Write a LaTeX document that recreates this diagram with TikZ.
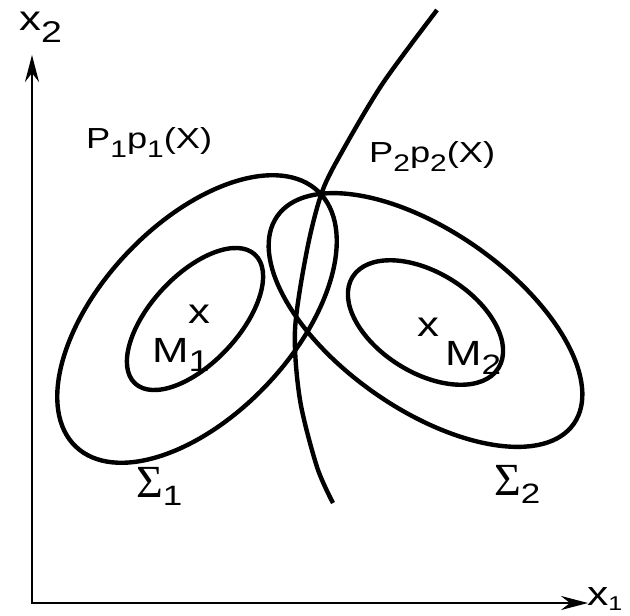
\documentclass[tikz,border=0pt]{standalone}
\usepackage{fontspec}
\newfontfamily\lab[FakeStretch=1.25]{Liberation Sans}
\newfontfamily\sig{Liberation Serif}
\usetikzlibrary{arrows.meta}
\newcommand\fs[2]{{\fontsize{#1}{#1}\selectfont #2}}
\newcommand\sbx[3]{\raisebox{#2}{\fontsize{#1}{#1}\selectfont #3}}
\begin{document}
\begin{tikzpicture}[x=1pt,y=-1pt,
  curve/.style={line width=4.4pt, line join=round},
  axis/.style={line width=2.6pt, arrows={Stealth[length=27pt,width=14pt,inset=9pt]-Stealth[length=27pt,width=14pt,inset=9pt]}},
  lbl/.style={inner sep=0pt, font=\lab}]
\useasboundingbox (0,0) rectangle (630,616);
% axes
\coordinate (ytip) at (32,55);
\coordinate (xtip) at (588,603);
\draw[axis] (ytip) |- (xtip);
% Sigma1 outer and inner
\coordinate (c1) at (197,319);
\draw[curve, rotate around={46.5:(c1)}] (c1) ellipse [x radius=176, y radius=96];
\coordinate (c1i) at (195,319);
\draw[curve, rotate around={47:(c1i)}] (c1i) ellipse [x radius=88, y radius=44];
% Sigma2 outer and inner
\coordinate (c2) at (425.5,320);
\draw[curve, rotate around={-35:(c2)}] (c2) ellipse [x radius=181, y radius=89];
\coordinate (c2i) at (425.5,322.5);
\draw[curve, rotate around={-32:(c2i)}] (c2i) ellipse [x radius=86, y radius=50];
% separating curve
\draw[curve] plot[smooth] coordinates {(437,10) (383,83) (343,150) (322,192) (307,250) (295,330) (300,400) (317,467) (333,503)};
% labels
\node[lbl, anchor=base west] (p1) at (86,148) {\fs{29}{P\sbx{24}{-9pt}{1}p\sbx{24}{-9pt}{1}(X)}};
\node[lbl, anchor=base west] (p2) at (369,162) {\fs{29}{P\sbx{24}{-9pt}{2}p\sbx{24}{-9pt}{2}(X)}};
\node[lbl] (m1x) at (199,314) {\fs{35}{x}};
\node[lbl, anchor=base west] (m1) at (152,362) {\fs{35}{M\sbx{30}{-9pt}{1}}};
\node[lbl] (m2x) at (428,327) {\fs{35}{x}};
\node[lbl, anchor=base west] (m2) at (445,365) {\fs{35}{M\sbx{28}{-9pt}{2}}};
\node[lbl, anchor=base west] (lx2) at (19,30) {\fs{35}{x\sbx{30}{-12pt}{2}}};
\node[lbl, anchor=base west] (lx1) at (587,605) {\fs{34}{x\sbx{20}{-5pt}{1}}};
\node[lbl, anchor=base west] (s1) at (136,497) {{\sig\fs{46}{Σ}}\sbx{28}{-8pt}{1}};
\node[lbl, anchor=base west] (s2) at (494,495) {{\sig\fs{46}{Σ}}\sbx{28}{-8pt}{2}};
\end{tikzpicture}
\end{document}
